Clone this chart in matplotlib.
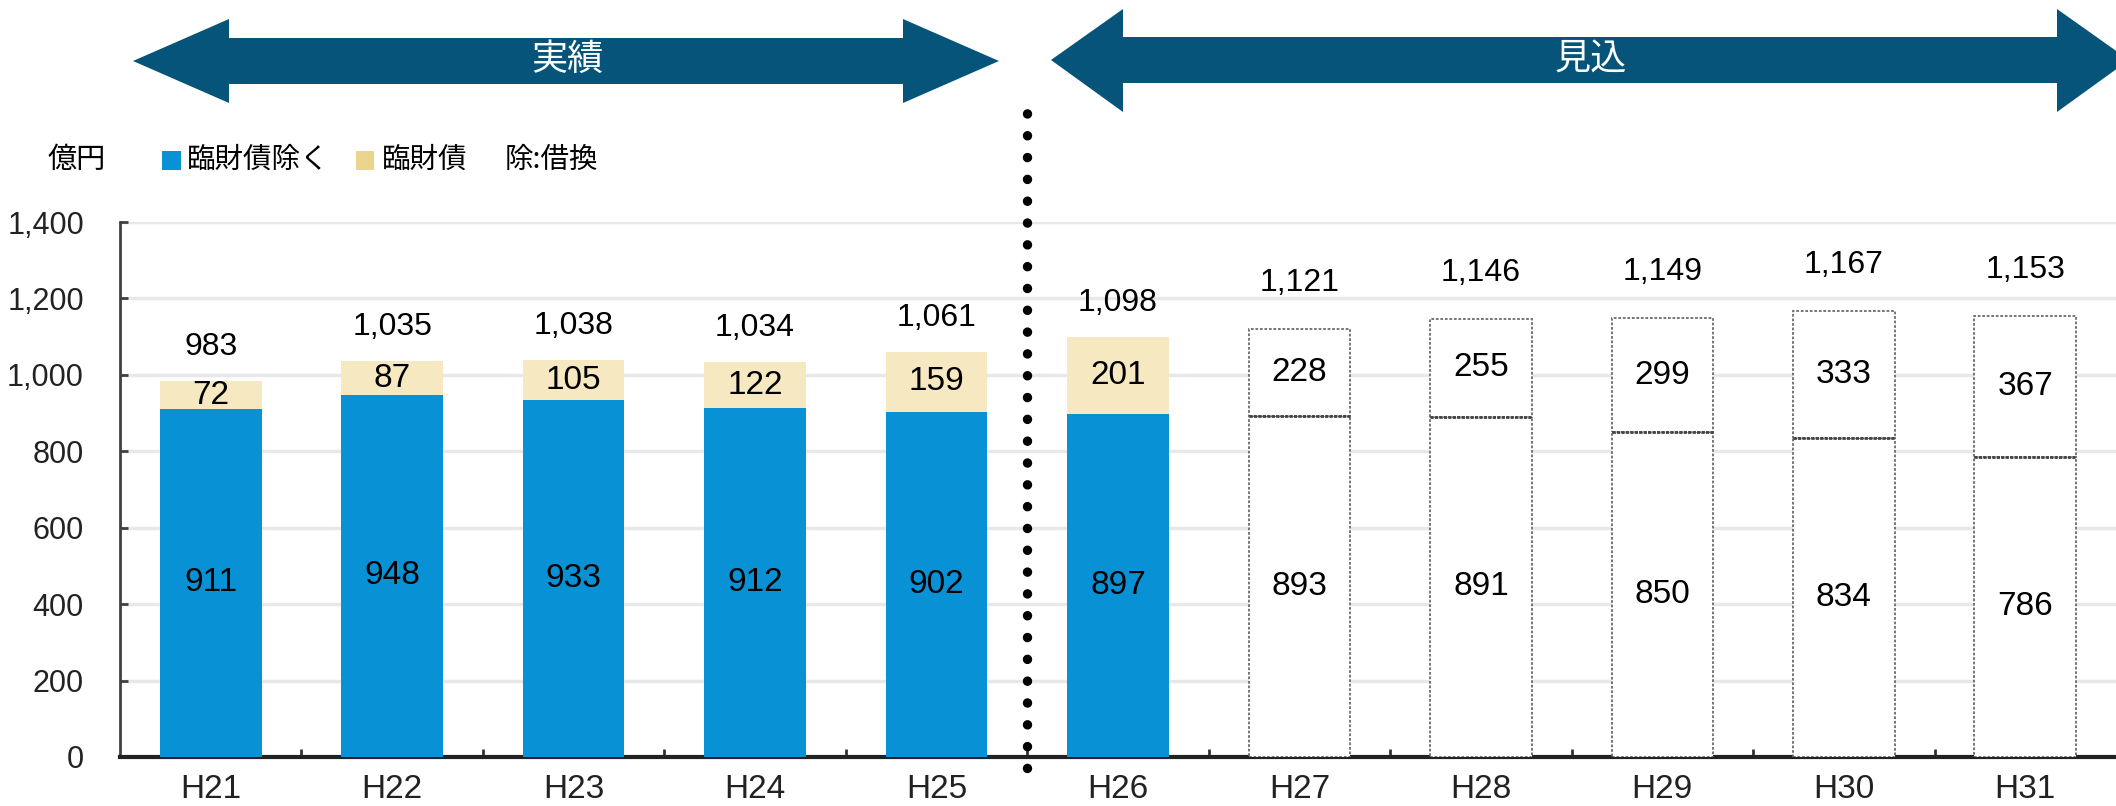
import numpy as np
import matplotlib
matplotlib.use("Agg")
import matplotlib.pyplot as plt
from matplotlib.patches import Polygon, Rectangle

plt.rcParams['font.family'] = ['Liberation Sans', 'Noto Sans CJK JP', 'DejaVu Sans']

categories = ["H21", "H22", "H23", "H24", "H25", "H26", "H27", "H28", "H29", "H30", "H31"]
excl_rinzai = [911, 948, 933, 912, 902, 897, 893, 891, 850, 834, 786]   # 臨財債除く
rinzai = [72, 87, 105, 122, 159, 201, 228, 255, 299, 333, 367]          # 臨財債
totals = [983, 1035, 1038, 1034, 1061, 1098, 1121, 1146, 1149, 1167, 1153]
n_actual = 6  # H21..H26 filled bars; H27.. are outlined (forecast)
yticks = [0, 200, 400, 600, 800, 1000, 1200, 1400]

W, H = 2116, 806
fig = plt.figure(figsize=(W / 100, H / 100), dpi=100)
ax = fig.add_axes([120 / W, (H - 757) / H, 1 - 120 / W, (757 - 222) / H])

BLUE = "#0892D5"
BEIGE = "#F6E8C0"
BEIGE_LEG = "#EBD48C"
NAVY = "#06547A"

x = np.arange(len(categories))
bw = 0.56
for i in x:
    if i < n_actual:
        ax.bar(i, excl_rinzai[i], bw, color=BLUE, zorder=3)
        ax.bar(i, rinzai[i], bw, bottom=excl_rinzai[i], color=BEIGE, zorder=3)
    else:
        ax.bar(i, excl_rinzai[i], bw, facecolor="white", edgecolor="#6a6a6a",
               linestyle=(0, (1.5, 1)), linewidth=1.3, zorder=3)
        ax.bar(i, rinzai[i], bw, bottom=excl_rinzai[i], facecolor="white", edgecolor="#6a6a6a",
               linestyle=(0, (1.5, 1)), linewidth=1.3, zorder=3)
        ax.plot([i - bw / 2, i + bw / 2], [excl_rinzai[i]] * 2, color="#444444", lw=2.0,
                linestyle=(0, (1.2, 0.4)), zorder=4)

    ax.text(i, excl_rinzai[i] / 2, f"{excl_rinzai[i]:,}", ha="center", va="center",
            fontsize=24, color="black", zorder=5)
    ax.text(i, excl_rinzai[i] + rinzai[i] / 2, f"{rinzai[i]:,}", ha="center", va="center",
            fontsize=24, color="black", zorder=5)
    off = 34 if i < n_actual else 46
    ax.annotate(f"{totals[i]:,}", (i, totals[i]), xytext=(0, off), textcoords="offset pixels",
                ha="center", va="center", fontsize=23, color="black", zorder=5,
                annotation_clip=False)

ax.set_xlim(-0.5, len(categories) - 0.5)
ax.set_ylim(0, 1400)
ax.set_yticks(yticks)
ax.set_yticklabels([f"{v:,}" for v in yticks])
ax.yaxis.grid(True, color="#E8E8E8", lw=2.5)
ax.set_axisbelow(True)

ax.set_xticks(x)
ax.set_xticklabels(categories)
ax.set_xticks(np.arange(0.5, len(categories) - 1, 1.0), minor=True)
ax.tick_params(axis="x", which="major", length=0, pad=12, labelsize=24, colors="#222222")
ax.tick_params(axis="x", which="minor", direction="in", length=6, width=2, color="#333333")
ax.tick_params(axis="y", direction="in", length=6, width=2, color="#404040",
               pad=26, labelsize=22, labelcolor="#222222")

for s in ["top", "right"]:
    ax.spines[s].set_visible(False)
ax.spines["left"].set_color("#404040")
ax.spines["left"].set_linewidth(2)
ax.spines["bottom"].set_color("#222222")
ax.spines["bottom"].set_linewidth(3)

# dotted divider between actual and forecast
div_x = n_actual - 1.5
ax.plot([div_x, div_x], [-28, 1705], color="black", lw=6.8, linestyle=(0, (0.01, 2.3)),
        dash_capstyle="round", solid_capstyle="round", clip_on=False, zorder=6)


def fx(px):
    return px / W


def fy(py):
    return 1 - py / H


def double_arrow(xl, xhl, xhr, xr, yc, hh_top, hh_bot, sh_top, sh_bot):
    pts = [(xl, yc), (xhl, hh_top), (xhl, sh_top), (xhr, sh_top), (xhr, hh_top), (xr, yc),
           (xhr, hh_bot), (xhr, sh_bot), (xhl, sh_bot), (xhl, hh_bot)]
    poly = Polygon([(fx(a), fy(b)) for a, b in pts], closed=True, transform=fig.transFigure,
                   facecolor=NAVY, edgecolor="none", zorder=1)
    fig.patches.append(poly)


double_arrow(133, 229, 903, 999, 61, 19, 103, 38, 84)
double_arrow(1051, 1123, 2057, 2129, 60, 9, 112, 37, 83)
fig.text(fx(567), fy(60), "実績", color="white", fontsize=26, ha="center", va="center",
         family=["Noto Sans CJK JP"])
fig.text(fx(1591), fy(59), "見込", color="white", fontsize=26, ha="center", va="center",
         family=["Noto Sans CJK JP"])

# unit + legend
LY = 160
fig.text(fx(47), fy(LY), "億円", fontsize=21, ha="left", va="center", family=["Noto Sans CJK JP"])
fig.patches.append(Rectangle((fx(162), fy(LY + 10)), fx(19), 19 / H, transform=fig.transFigure,
                             facecolor=BLUE, edgecolor="none"))
fig.text(fx(187), fy(LY), "臨財債除く", fontsize=20.5, ha="left", va="center",
         family=["Noto Sans CJK JP"])
fig.patches.append(Rectangle((fx(356), fy(LY + 10)), fx(18), 19 / H, transform=fig.transFigure,
                             facecolor=BEIGE_LEG, edgecolor="none"))
fig.text(fx(382), fy(LY), "臨財債", fontsize=20.5, ha="left", va="center",
         family=["Noto Sans CJK JP"])
fig.text(fx(505), fy(LY), "除:借換", fontsize=20.5, ha="left", va="center",
         family=["Noto Sans CJK JP"])

fig.savefig("out.png", dpi=100, facecolor="white")
